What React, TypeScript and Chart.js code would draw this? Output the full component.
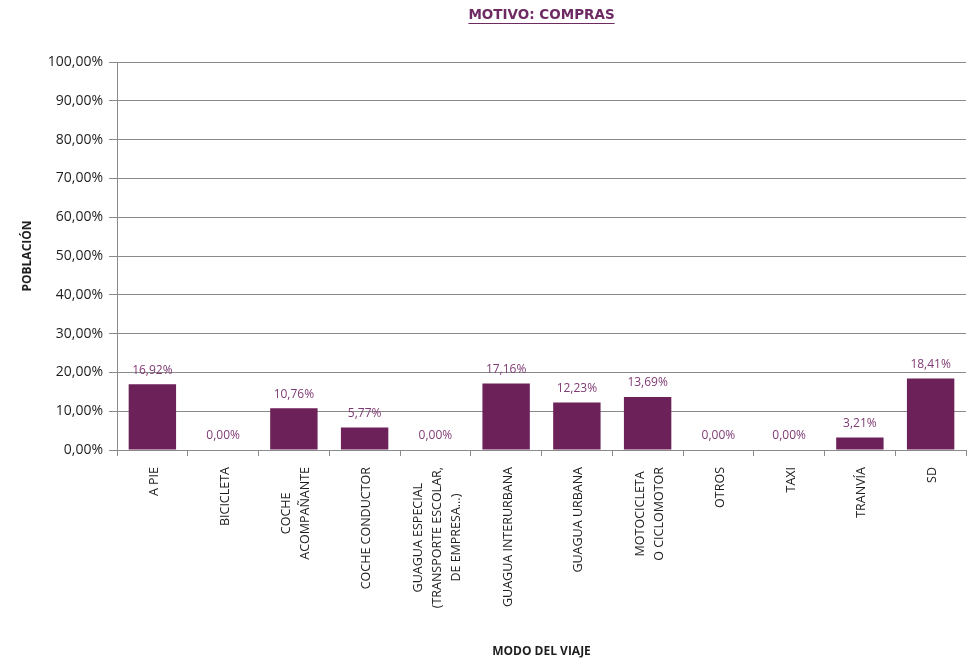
import React, { useEffect, useRef } from "react";
import { Chart, registerables } from "chart.js";

Chart.register(...registerables);

const TITLE = "MOTIVO: COMPRAS";
const Y_TITLE = "POBLACIÓN";
const X_TITLE = "MODO DEL VIAJE";

const categories: string[][] = [
  ["A PIE"],
  ["BICICLETA"],
  ["COCHE", "ACOMPAÑANTE"],
  ["COCHE CONDUCTOR"],
  ["GUAGUA ESPECIAL", "(TRANSPORTE ESCOLAR,", "DE EMPRESA...)"],
  ["GUAGUA INTERURBANA"],
  ["GUAGUA URBANA"],
  ["MOTOCICLETA", "O CICLOMOTOR"],
  ["OTROS"],
  ["TAXI"],
  ["TRANVÍA"],
  ["SD"],
];

const values: number[] = [16.92, 0, 10.76, 5.77, 0, 17.16, 12.23, 13.69, 0, 0, 3.21, 18.41];

const yTicks: number[] = [0, 10, 20, 30, 40, 50, 60, 70, 80, 90, 100];

const BAR = "#6d2159";
const LABEL = "#7e3a73";
const GRID = "#8a8a8a";
const TEXT = "#1e1e1e";
const FONT = "'Open Sans', sans-serif";

const fmt = (v: number) => v.toFixed(2).replace(".", ",") + "%";

const overlay = {
  id: "overlay",
  afterDraw(chart: any) {
    const ctx = chart.ctx;
    const area = chart.chartArea;
    ctx.save();
    // title
    ctx.font = "bold 13.5px 'DejaVu Sans', sans-serif";
    ctx.fillStyle = "#6e2a63";
    ctx.textAlign = "center";
    ctx.textBaseline = "middle";
    const cx = (area.left + area.right) / 2;
    ctx.fillText(TITLE, cx, 15);
    const w = ctx.measureText(TITLE).width;
    ctx.strokeStyle = "#6e2a63";
    ctx.lineWidth = 1;
    ctx.beginPath();
    ctx.moveTo(cx - w / 2, 23.5);
    ctx.lineTo(cx + w / 2, 23.5);
    ctx.stroke();

    // data labels
    const meta = chart.getDatasetMeta(0);
    ctx.font = `12px ${FONT}`;
    ctx.fillStyle = LABEL;
    meta.data.forEach((bar: any, i: number) => {
      ctx.fillText(fmt(values[i]), bar.x, bar.y - 14);
    });

    // x labels (rotated, centered lines)
    const xs = chart.scales.x;
    ctx.font = `12.5px ${FONT}`;
    ctx.fillStyle = TEXT;
    const lh = 19;
    categories.forEach((lines, i) => {
      const x = xs.getPixelForTick(i);
      const maxW = Math.max(...lines.map((l) => ctx.measureText(l).width));
      ctx.save();
      ctx.translate(x + 2, area.bottom + 17);
      ctx.rotate(-Math.PI / 2);
      ctx.textAlign = "center";
      ctx.textBaseline = "middle";
      lines.forEach((l, j) => {
        ctx.fillText(l, -maxW / 2, (j - (lines.length - 1) / 2) * lh);
      });
      ctx.restore();
    });
    ctx.restore();
  },
};

export default function App() {
  const ref = useRef<HTMLCanvasElement | null>(null);
  useEffect(() => {
    if (!ref.current) return;
    const chart = new Chart(ref.current, {
      type: "bar",
      data: {
        labels: categories.map((c) => c.join(" ")),
        datasets: [
          {
            data: values,
            backgroundColor: BAR,
            borderWidth: 0,
            barPercentage: 0.67,
            categoryPercentage: 1,
          },
        ],
      },
      options: {
        animation: false,
        responsive: true,
        maintainAspectRatio: false,
        layout: { padding: { top: 62, right: 11, bottom: 0, left: 0 } },
        plugins: {
          legend: { display: false },
          tooltip: { enabled: false },
          title: { display: false },
        },
        scales: {
          x: {
            ticks: { display: false },
            grid: {
              display: true,
              drawOnChartArea: false,
              offset: true,
              tickLength: 6,
              color: GRID,
            },
            border: { color: GRID },
            title: {
              display: true,
              text: X_TITLE,
              color: TEXT,
              font: { family: FONT, size: 12, weight: "bold" },
              padding: { top: 0, bottom: 3 },
            },
            afterFit: (s: any) => {
              s.height = 212;
            },
          },
          y: {
            min: 0,
            max: 100,
            afterBuildTicks: (s: any) => {
              s.ticks = yTicks.map((v) => ({ value: v }));
            },
            ticks: {
              callback: (v: any) => fmt(Number(v)),
              color: TEXT,
              font: { family: FONT, size: 14 },
              padding: 6,
            },
            grid: { color: GRID, tickLength: 8 },
            border: { color: GRID },
            title: {
              display: true,
              text: Y_TITLE,
              color: TEXT,
              font: { family: FONT, size: 12, weight: "bold" },
              padding: { top: 20, bottom: 0 },
            },
            afterFit: (s: any) => {
              s.width = 117;
            },
          },
        },
      },
      plugins: [overlay],
    });
    return () => chart.destroy();
  }, []);
  return (
    <div style={{ position: "fixed", left: 0, top: 0, width: 977, height: 662, background: "#fff" }}>
      <canvas ref={ref} />
    </div>
  );
}
